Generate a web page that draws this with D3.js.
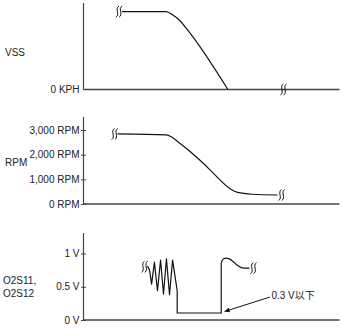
<!DOCTYPE html>
<html>
<head>
<meta charset="utf-8">
<script src="https://cdn.jsdelivr.net/npm/d3@7"></script>
<style>
  body { margin: 0; background: #fff; }
  text { font-family: "Liberation Sans", Arial, sans-serif; font-size: 10px; fill: #222; }
</style>
</head>
<body>
<div id="chart"></div>
<script>
// time runs 0..100 across all three traces
var vssTime = [15, 32.3, 34.9, 37.5, 40.1, 56.4];
var vssKph = [90, 90, 86, 80, 71, 0];

var rpmTime = [13.3, 32.4, 34.4, 37.5, 41.4, 47.3, 50.4, 57.7, 60.2, 66.0, 75.8];
var rpmValue = [2840, 2800, 2720, 2475, 2150, 1600, 1280, 590, 470, 395, 365];
var rpmTicks = [0, 1000, 2000, 3000];

var o2Time = [25.0, 25.8, 26.6, 27.7, 28.9, 30.1, 31.25, 32.4, 33.6, 34.8, 36.6, 36.6, 53.8, 53.8];
var o2Volt = [0.81, 0.75, 0.54, 0.87, 0.44, 0.90, 0.39, 0.92, 0.38, 0.90, 0.44, 0.105, 0.105, 0.86];
var o2RecTime = [53.8, 54.7, 55.9, 57.8, 60.2, 62.5, 64.8];
var o2RecVolt = [0.86, 0.92, 0.93, 0.90, 0.82, 0.78, 0.78];
var o2Ticks = [0, 0.5, 1];
var o2TickLabels = ["0 V", "0.5 V", "1 V"];

var noteText = "0.3 V以下";
var noteAt = { t: 73.4, v: 0.375 };
var noteTip = { t: 55.1, v: 0.128 };

var W = 342, H = 329;
var svg = d3.select("#chart").append("svg").attr("width", W).attr("height", H);

svg.append("defs").append("marker")
  .attr("id", "arrow").attr("viewBox", "0 0 10 10")
  .attr("refX", 10).attr("refY", 5)
  .attr("markerWidth", 10).attr("markerHeight", 5)
  .attr("markerUnits", "userSpaceOnUse")
  .attr("orient", "auto")
  .append("path").attr("d", "M0,0L10,5L0,10Z").attr("fill", "#111");

var x = d3.scaleLinear().domain([0, 100]).range([83.5, 339.5]);

var axisColor = "#444";

// the L-shaped frame of a trace
function frame(top, bottom) {
  svg.append("line").attr("x1", x(0)).attr("x2", x(0)).attr("y1", top).attr("y2", bottom)
    .attr("stroke", axisColor).attr("stroke-width", 1.2);
  svg.append("line").attr("x1", x(0)).attr("x2", x(100)).attr("y1", bottom).attr("y2", bottom)
    .attr("stroke", axisColor).attr("stroke-width", 1.4);
}

// break mark: two little S curves
function breakMark(px, py) {
  [0, 3.2].forEach(function (dx) {
    var cx = px + dx;
    svg.append("path")
      .attr("d", "M" + (cx + 1.5) + "," + (py - 5.5) + " C" + (cx - 3) + "," + (py - 3) + " " + (cx + 3) + "," + (py + 3) + " " + (cx - 1.5) + "," + (py + 5.5))
      .attr("fill", "none").attr("stroke", "#111").attr("stroke-width", 1);
  });
}

function leftAxis(y, ticks, fmt, crossTicks) {
  var g = svg.append("g").attr("transform", "translate(" + x(0) + ",0)")
    .call(d3.axisLeft(y).tickValues(ticks).tickFormat(fmt).tickSizeInner(0).tickSizeOuter(0).tickPadding(4));
  g.select(".domain").remove();
  g.selectAll(".tick text").style("font-family", "Liberation Sans, Arial, sans-serif").style("font-size", "10px").attr("fill", "#222");
  if (crossTicks) {
    g.selectAll(".tick line").attr("x1", -2.5).attr("x2", 2.5).attr("stroke", axisColor).attr("stroke-width", 1);
  } else {
    g.selectAll(".tick line").remove();
  }
  return g;
}

// ---- VSS
var yV = d3.scaleLinear().domain([0, 100]).range([89.5, 3]);
frame(3, yV(0));
leftAxis(yV, [0], function () { return "0 KPH"; }, false);
svg.append("text").attr("x", 5).attr("y", 52).attr("dy", "0.35em").text("VSS");

var vssLine = d3.line().curve(d3.curveMonotoneX)
  .x(function (d, i) { return x(vssTime[i]); })
  .y(function (d) { return yV(d); });
svg.append("path").attr("d", vssLine(vssKph))
  .attr("fill", "none").attr("stroke", "#111").attr("stroke-width", 1.2);
breakMark(x(vssTime[0]) - 4.5, yV(vssKph[0]));
breakMark(x(77.5), yV(0));

// ---- RPM
var yR = d3.scaleLinear().domain([0, 3000]).range([204, 130]);
frame(117, yR(0));
leftAxis(yR, rpmTicks, function (d) { return d3.format(",")(d) + " RPM"; }, true);
svg.append("text").attr("x", 5).attr("y", 162).attr("dy", "0.35em").text("RPM");

var rpmLine = d3.line().curve(d3.curveMonotoneX)
  .x(function (d, i) { return x(rpmTime[i]); })
  .y(function (d) { return yR(d); });
svg.append("path").attr("d", rpmLine(rpmValue))
  .attr("fill", "none").attr("stroke", "#111").attr("stroke-width", 1.2);
breakMark(x(rpmTime[0]) - 4.5, yR(rpmValue[0]));
breakMark(x(rpmTime[rpmTime.length - 1]) + 2.5, yR(rpmValue[rpmValue.length - 1]));

// ---- O2S
var yO = d3.scaleLinear().domain([0, 1]).range([320, 253.5]);
frame(233, yO(0));
leftAxis(yO, o2Ticks, function (d, i) { return o2TickLabels[i]; }, true);
svg.append("text").attr("x", 3).attr("y", 280).attr("dy", "0.35em").text("O2S11,");
svg.append("text").attr("x", 3).attr("y", 293).attr("dy", "0.35em").text("O2S12");

var o2Line = d3.line()
  .x(function (d, i) { return x(o2Time[i]); })
  .y(function (d) { return yO(d); });
svg.append("path").attr("d", o2Line(o2Volt))
  .attr("fill", "none").attr("stroke", "#111").attr("stroke-width", 1.2).attr("stroke-linejoin", "round");
var recLine = d3.line().curve(d3.curveMonotoneX)
  .x(function (d, i) { return x(o2RecTime[i]); })
  .y(function (d) { return yO(d); });
svg.append("path").attr("d", recLine(o2RecVolt))
  .attr("fill", "none").attr("stroke", "#111").attr("stroke-width", 1.2);
breakMark(x(o2Time[0]) - 4.5, yO(0.8));
breakMark(x(o2RecTime[o2RecTime.length - 1]) + 2.5, yO(o2RecVolt[o2RecVolt.length - 1]));

// note with arrow
svg.append("line")
  .attr("x1", x(noteAt.t) - 1.5).attr("y1", yO(noteAt.v) + 2)
  .attr("x2", x(noteTip.t)).attr("y2", yO(noteTip.v))
  .attr("stroke", "#111").attr("stroke-width", 1)
  .attr("marker-end", "url(#arrow)");
svg.append("text").attr("x", x(noteAt.t)).attr("y", yO(noteAt.v)).attr("dy", "0.35em")
  .style("font-family", "'Liberation Sans', 'Noto Sans CJK JP', sans-serif").text(noteText);
</script>
</body>
</html>
